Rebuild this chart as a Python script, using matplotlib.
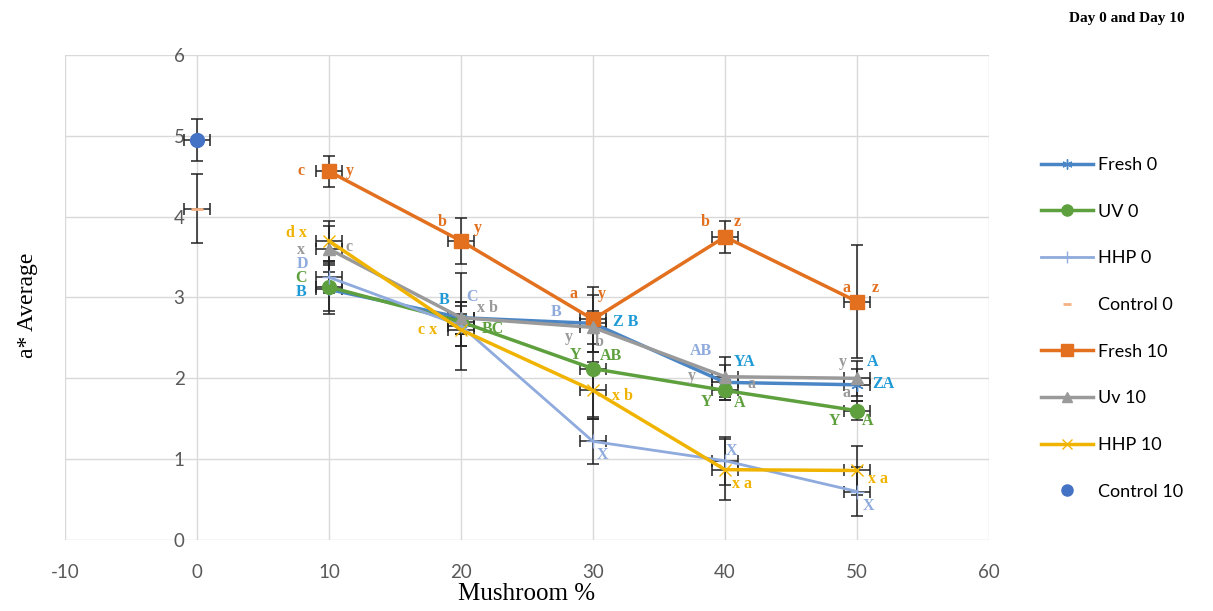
import matplotlib.pyplot as plt

plt.rcParams['axes.unicode_minus'] = False

# mushroom level (%) and a* averages per treatment
mushroom = [10, 20, 30, 40, 50]

fresh0 = [3.10, 2.75, 2.68, 1.95, 1.92]
uv0 = [3.13, 2.70, 2.12, 1.85, 1.60]
hhp0 = [3.25, 2.65, 1.22, 0.98, 0.60]
fresh10 = [4.56, 3.70, 2.73, 3.75, 2.95]
uv10 = [3.60, 2.75, 2.63, 2.02, 2.00]
hhp10 = [3.70, 2.60, 1.85, 0.87, 0.86]
control0 = [4.10]
control10 = [4.95]

fresh0_err = [0.30, 0.20, 0.35, 0.22, 0.20]
uv0_err = [0.30, 0.60, 0.60, 0.12, 0.12]
hhp0_err = [0.20, 0.25, 0.28, 0.30, 0.30]
fresh10_err = [0.19, 0.28, 0.40, 0.20, 0.70]
uv10_err = [0.28, 0.20, 0.20, 0.25, 0.22]
hhp10_err = [0.25, 0.20, 0.35, 0.38, 0.30]
control0_err = [0.43]
control10_err = [0.26]
x_err = 1.0

C_FRESH0 = '#4a86c5'
C_UV0 = '#5ea03e'
C_HHP0 = '#8faadc'
C_CTRL0 = '#f4b183'
C_FRESH10 = '#e2701f'
C_UV10 = '#9a9a9a'
C_HHP10 = '#f0b400'
C_CTRL10 = '#4472c4'

fig = plt.figure(figsize=(12.13, 6.11), dpi=100)
ax = fig.add_axes([0.0536, 0.1162, 0.7617, 0.7938])


def draw(x, y, yerr, label, color, marker, ms, lw=2.5, ls='-', mew=1.0):
    ax.errorbar(x, y, yerr=yerr, xerr=x_err, fmt='none', ecolor='#222222',
                elinewidth=1.1, capsize=4, capthick=1.1, zorder=2)
    ax.plot(x, y, color=color, lw=lw, ls=ls, marker=marker, ms=ms,
            mew=mew, label=label, zorder=3)


draw(mushroom, fresh0, fresh0_err, 'Fresh 0', C_FRESH0, (6, 2, 0), 9, mew=1.0)
draw(mushroom, uv0, uv0_err, 'UV 0', C_UV0, 'o', 10)
draw(mushroom, hhp0, hhp0_err, 'HHP 0', C_HHP0, '+', 10, lw=2.0)
draw([0], control0, control0_err, 'Control 0', C_CTRL0, '_', 8, ls='none', mew=2)
draw(mushroom, fresh10, fresh10_err, 'Fresh 10', C_FRESH10, 's', 10)
draw(mushroom, uv10, uv10_err, 'Uv 10', C_UV10, '^', 9)
draw(mushroom, hhp10, hhp10_err, 'HHP 10', C_HHP10, 'x', 9, mew=1.0)
draw([0], control10, control10_err, 'Control 10', C_CTRL10, 'o', 10, ls='none')

# significance letters next to the points
C_LET0 = '#1e9ad6'
letters = [
    (7.9, 4.57, 'c', C_FRESH10), (11.6, 4.57, 'y', C_FRESH10),
    (7.5, 3.80, 'd x', C_HHP10), (7.9, 3.59, 'x', C_UV10), (11.5, 3.63, 'c', C_UV10),
    (8.0, 3.42, 'D', C_HHP0), (7.9, 3.24, 'C', C_UV0), (7.9, 3.07, 'B', C_LET0),
    (18.6, 3.94, 'b', C_FRESH10), (21.3, 3.86, 'y', C_FRESH10),
    (18.7, 2.97, 'B', C_LET0), (20.8, 3.00, 'C', C_HHP0), (22.0, 2.87, 'x b', C_UV10),
    (17.5, 2.60, 'c x', C_HHP10), (22.4, 2.61, 'BC', C_UV0),
    (28.5, 3.04, 'a', C_FRESH10), (30.7, 3.04, 'y', C_FRESH10),
    (27.2, 2.82, 'B', C_HHP0), (32.5, 2.70, 'Z B', C_LET0),
    (28.2, 2.51, 'y', C_UV10), (30.5, 2.45, 'b', C_UV10),
    (28.7, 2.29, 'Y', C_UV0), (31.4, 2.28, 'AB', C_UV0),
    (32.2, 1.78, 'x b', C_HHP10), (30.7, 1.05, 'X', C_HHP0),
    (38.5, 3.94, 'b', C_FRESH10), (40.9, 3.94, 'z', C_FRESH10),
    (38.2, 2.34, 'AB', C_HHP0), (41.5, 2.20, 'YA', C_LET0),
    (37.5, 2.03, 'y', C_UV10), (42.0, 1.93, 'a', C_UV10),
    (38.6, 1.71, 'Y', C_UV0), (41.1, 1.70, 'A', C_UV0),
    (40.5, 1.10, 'X', C_HHP0), (41.3, 0.69, 'x a', C_HHP10),
    (49.2, 3.12, 'a', C_FRESH10), (51.4, 3.12, 'z', C_FRESH10),
    (48.9, 2.20, 'y', C_UV10), (51.2, 2.20, 'A', C_LET0),
    (52.0, 1.93, 'ZA', C_LET0), (49.2, 1.82, 'a', C_UV10),
    (48.3, 1.47, 'Y', C_UV0), (50.8, 1.47, 'A', C_UV0),
    (51.6, 0.75, 'x a', C_HHP10), (50.9, 0.42, 'X', C_HHP0),
]
for lx, ly, txt, col in letters:
    ax.text(lx, ly, txt, color=col, fontsize=11.5, fontweight='bold',
            family='Liberation Serif', ha='center', va='center', zorder=4)

ax.set_xlim(-10, 60)
ax.set_ylim(0, 6)
ax.set_xticks(range(-10, 61, 10))
ax.set_yticks(range(0, 7))
ax.grid(True, color='#d9d9d9', lw=1.0)
ax.set_axisbelow(True)
for s in ax.spines.values():
    s.set_visible(False)
ax.spines['left'].set_position(('data', 0))
ax.tick_params(length=0, labelsize=13.5, labelcolor='#595959')
ax.tick_params(axis='x', pad=17)
ax.tick_params(axis='y', pad=9)
for t in ax.get_xticklabels() + ax.get_yticklabels():
    t.set_family('Lato')

ax.set_xlabel('Mushroom %', family='Liberation Serif', fontsize=18, labelpad=2)
fig.text(0.023, 0.5, 'a* Average', rotation=90, family='Liberation Serif',
         fontsize=17, va='center', ha='center')

fig.text(0.977, 0.97, 'Day 0 and Day 10', family='Liberation Serif',
         fontweight='bold', fontsize=11, ha='right', va='center')

fig.legend(loc='upper left', bbox_to_anchor=(0.852, 0.755), frameon=False,
           prop={'family': 'Lato', 'size': 13}, labelspacing=1.7,
           handlelength=2.9, handletextpad=0.3, borderaxespad=0,
           markerscale=0.8)

fig.savefig('out.png', dpi=100)
